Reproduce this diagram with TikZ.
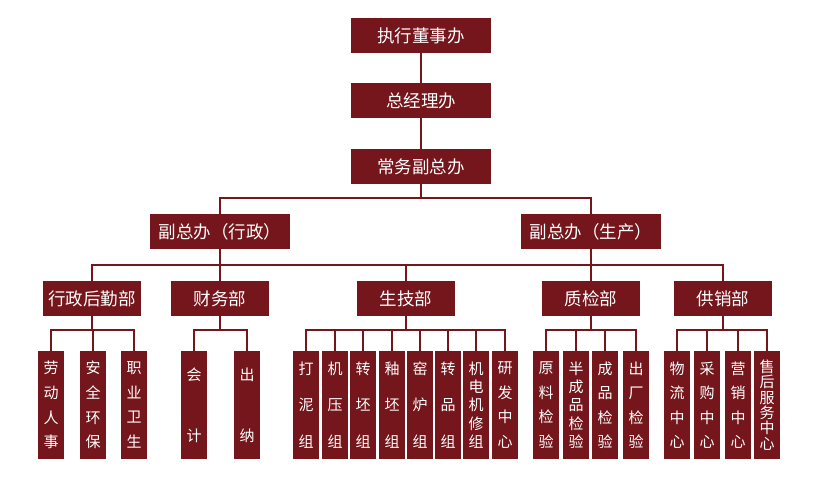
\documentclass[tikz,border=0pt]{standalone}
\usepackage{fontspec}
\setmainfont{Noto Sans CJK SC}
\usepackage{xcolor}
\usepackage{tikz}
\definecolor{wine}{RGB}{116,22,27}

\begin{document}
\begin{tikzpicture}[x=1pt,y=-1pt,
  office/.style={fill=wine,text=white,inner sep=0pt,minimum width=140pt,minimum height=35pt,font=\fontsize{17.5}{20}\selectfont},
  dept/.style={office,minimum width=98pt},
  leaf/.style={fill=wine,text=white,inner sep=0pt,minimum width=26pt,minimum height=108pt,align=center,font=\fontsize{15}{#1}\selectfont},
  link/.style={draw=wine,line width=2pt}]
\useasboundingbox (0,0) rectangle (830,503);

\node[office] (board) at (421,35.5) {执行董事办};
\node[office] (gm) at (421,100.5) {总经理办};
\node[office] (evp) at (421,166.5) {常务副总办};
\node[office] (vpa) at (220,231.5) {副总办（行政）};
\node[office] (vpp) at (591,231.5) {副总办（生产）};

\node[dept] (hr) at (92,298.5) {行政后勤部};
\node[dept] (fin) at (220,298.5) {财务部};
\node[dept] (tech) at (406,298.5) {生技部};
\node[dept] (qc) at (591,298.5) {质检部};
\node[dept] (sales) at (723,298.5) {供销部};

\node[leaf=24.7] (hr1) at (51,405) {劳\\动\\人\\事};
\node[leaf=24.7] (hr2) at (93,405) {安\\全\\环\\保};
\node[leaf=24.7] (hr3) at (134,405) {职\\业\\卫\\生};

\node[leaf=61] (fin1) at (194,405) {会\\计};
\node[leaf=61] (fin2) at (247,405) {出\\纳};

\node[leaf=36.5] (tech1) at (306,405) {打\\泥\\组};
\node[leaf=36.5] (tech2) at (335,405) {机\\压\\组};
\node[leaf=36.5] (tech3) at (363,405) {转\\坯\\组};
\node[leaf=36.5] (tech4) at (392,405) {釉\\坯\\组};
\node[leaf=36.5] (tech5) at (420,405) {窑\\炉\\组};
\node[leaf=36.5] (tech6) at (448,405) {转\\品\\组};
\node[leaf=18.3] (tech7) at (476,405) {机\\电\\机\\修\\组};
\node[leaf=24.5] (tech8) at (505,405) {研\\发\\中\\心};

\node[leaf=24.5] (qc1) at (546,405) {原\\料\\检\\验};
\node[leaf=18.3] (qc2) at (576,405) {半\\成\\品\\检\\验};
\node[leaf=24.5] (qc3) at (605,405) {成\\品\\检\\验};
\node[leaf=24.5] (qc4) at (636,405) {出\\厂\\检\\验};

\node[leaf=24.5] (sales1) at (677,405) {物\\流\\中\\心};
\node[leaf=24.5] (sales2) at (707,405) {采\\购\\中\\心};
\node[leaf=24.5] (sales3) at (738,405) {营\\销\\中\\心};
\node[leaf=15.4] (sales4) at (767,405) {售\\后\\服\\务\\中\\心};

\draw[link] (board) -- (gm);
\draw[link] (gm) -- (evp);
\coordinate (bus0) at (421,198);
\draw[link] (evp) -- (bus0);
\draw[link] (vpa.north) |- (bus0) -| (vpp.north);

\coordinate (bus1) at (0,265);
\draw[link] (hr.north) |- (sales.north |- bus1) -- (sales.north);
\foreach \d in {vpa,vpp,fin,tech,qc}
  \draw[link] (\d) -- (\d |- bus1);

\foreach \d/\kids in {hr/{hr1,hr2,hr3},fin/{fin1,fin2},tech/{tech1,tech2,tech3,tech4,tech5,tech6,tech7,tech8},qc/{qc1,qc2,qc3,qc4},sales/{sales1,sales2,sales3,sales4}} {
  \path (\d.south) ++(0,14) coordinate (bus-\d);
  \draw[link] (\d.south) -- (bus-\d);
  \foreach \k in \kids
    \draw[link] (\k.north) |- (bus-\d);
}
\end{tikzpicture}
\end{document}
